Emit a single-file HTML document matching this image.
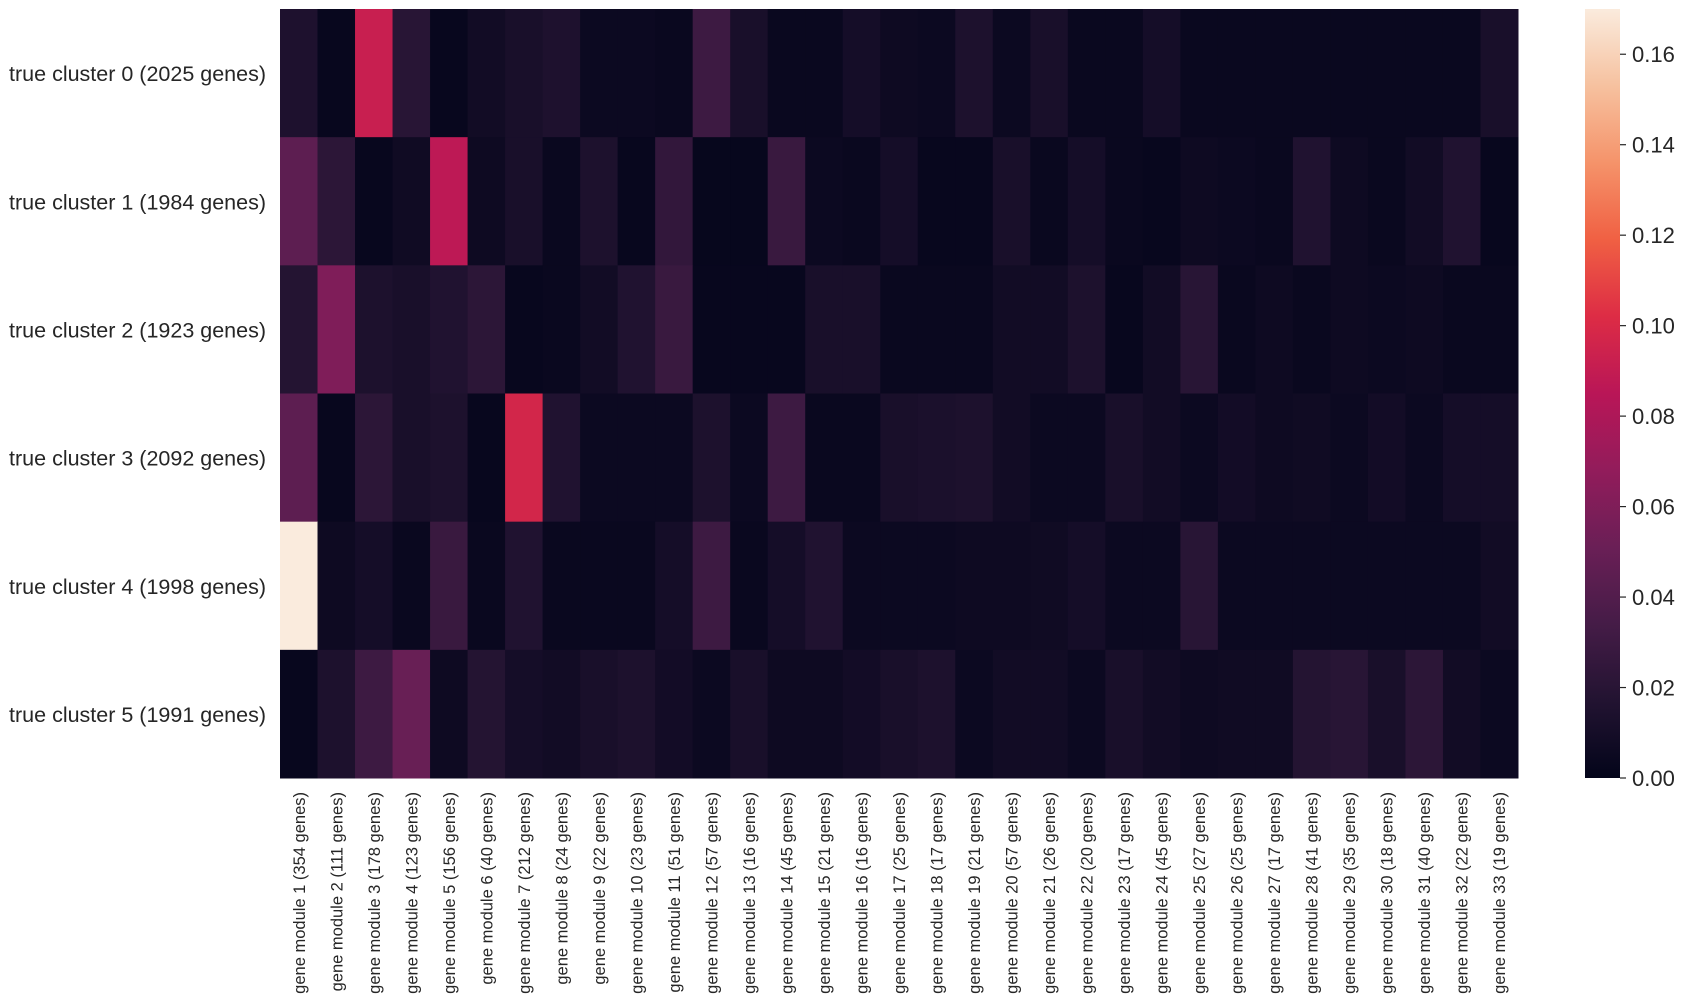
<!DOCTYPE html>
<html><head><meta charset="utf-8"><style>
html,body{margin:0;padding:0;background:#fff;width:1700px;height:1006px;overflow:hidden}
text{font-family:"Liberation Sans",Arial,sans-serif;fill:#262626}
</style></head><body>
<svg id="chart" width="1700" height="1006" xmlns="http://www.w3.org/2000/svg">
<defs><linearGradient id="cbg" x1="0" y1="1" x2="0" y2="0"></linearGradient></defs>
<g id="cells"></g>
<g id="ylabels"></g>
<g id="xlabels"></g>
<g id="cbar"></g>
</svg>
<script>
const rowLabels=["true cluster 0 (2025 genes)","true cluster 1 (1984 genes)","true cluster 2 (1923 genes)","true cluster 3 (2092 genes)","true cluster 4 (1998 genes)","true cluster 5 (1991 genes)"];
const moduleSizes=[354,111,178,123,156,40,212,24,22,23,51,57,16,45,21,16,25,17,21,57,26,20,17,45,27,25,17,41,35,18,40,22,19];
const row0=[0.015,0.003,0.092,0.02,0.003,0.008,0.012,0.015,0.005,0.005,0.004,0.03,0.012,0.004,0.004,0.01,0.006,0.005,0.014,0.005,0.012,0.004,0.004,0.01,0.004,0.004,0.004,0.004,0.004,0.004,0.004,0.004,0.012];
const row1=[0.045,0.022,0.003,0.007,0.087,0.006,0.012,0.004,0.014,0.003,0.025,0.002,0.002,0.028,0.005,0.004,0.01,0.003,0.003,0.012,0.004,0.01,0.004,0.003,0.006,0.005,0.004,0.016,0.006,0.004,0.008,0.016,0.003];
const row2=[0.018,0.06,0.014,0.012,0.016,0.022,0.003,0.004,0.008,0.016,0.028,0.003,0.003,0.003,0.012,0.012,0.004,0.004,0.004,0.008,0.008,0.014,0.003,0.008,0.02,0.004,0.006,0.004,0.006,0.005,0.006,0.004,0.004];
const row3=[0.045,0.003,0.022,0.012,0.014,0.003,0.097,0.016,0.005,0.005,0.005,0.014,0.005,0.03,0.004,0.004,0.012,0.013,0.014,0.008,0.005,0.005,0.012,0.008,0.005,0.009,0.006,0.007,0.005,0.009,0.005,0.01,0.01];
const row4=[0.17,0.006,0.01,0.004,0.028,0.004,0.016,0.004,0.004,0.004,0.01,0.03,0.004,0.01,0.016,0.005,0.005,0.005,0.006,0.006,0.007,0.01,0.005,0.005,0.02,0.005,0.005,0.005,0.005,0.005,0.005,0.005,0.008];
const row5=[0.003,0.014,0.03,0.05,0.006,0.018,0.01,0.008,0.012,0.014,0.009,0.005,0.012,0.006,0.006,0.009,0.012,0.014,0.005,0.008,0.008,0.005,0.012,0.008,0.006,0.007,0.007,0.018,0.02,0.012,0.022,0.008,0.005];
const cbTicks=[0,0.02,0.04,0.06,0.08,0.10,0.12,0.14,0.16];
const rows=[row0,row1,row2,row3,row4,row5];
const vmax=0.17;
const L=280,R=1518,T=9,B=778;
const nc=moduleSizes.length, nr=rows.length;
const cw=(R-L)/nc, rh=(B-T)/nr;
const xPos=i=>L+i*cw, yPos=j=>T+j*rh;
const stops=["#03051a","#221331","#451c47","#6a1f56","#921c5b","#b91657","#dd2c45","#f06043","#f5936a","#f6c19f","#faebdd"];
function hex(h){return [1,3,5].map(k=>parseInt(h.substr(k,2),16));}
function cmap(v){let t=Math.max(0,Math.min(1,v/vmax))*10;let i=Math.min(9,Math.floor(t));let f=t-i;let a=hex(stops[i]),b=hex(stops[i+1]);return "rgb("+a.map((x,k)=>Math.round(x+(b[k]-x)*f)).join(",")+")";}
const NS="http://www.w3.org/2000/svg";
function mk(tag,attrs,parent){const e=document.createElementNS(NS,tag);for(const k in attrs)e.setAttribute(k,attrs[k]);parent.appendChild(e);return e;}
const cells=document.getElementById('cells');
rows.forEach((r,j)=>r.forEach((v,i)=>{
 const e=mk('rect',{x:xPos(i),y:yPos(j),width:cw+0.5,height:rh+0.5,fill:cmap(v)},cells);
 
 
}));
const yl=document.getElementById('ylabels');
rowLabels.forEach((s,j)=>{
 const e=mk('text',{x:L-14,y:yPos(j)+rh/2+8,'text-anchor':'end','font-size':'21.5'},yl);
 e.textContent=s;
 
 
});
const xl=document.getElementById('xlabels');
moduleSizes.forEach((n,i)=>{
 const cx=xPos(i)+cw/2+6, y=B+14;
 const e=mk('text',{x:cx,y:y,'text-anchor':'end','font-size':'16.5',transform:'rotate(-90 '+cx+' '+y+')'},xl);
 e.textContent='gene module '+(i+1)+' ('+n+' genes)';
 
 
});
const cb=document.getElementById('cbar');
const CL=1585,CW=35;
const grad=document.getElementById('cbg');
stops.forEach((c,k)=>mk('stop',{offset:(k*10)+'%','stop-color':c},grad));
const cr=mk('rect',{x:CL,y:T,width:CW,height:B-T,fill:'url(#cbg)'},cb);


const cy=v=>B-(v/vmax)*(B-T);
cbTicks.forEach(v=>{
 const ln=mk('line',{x1:CL+CW,x2:CL+CW+6,y1:cy(v),y2:cy(v),stroke:'#262626','stroke-width':1.2},cb);
 
 
 const t=mk('text',{x:CL+CW+12,y:cy(v)+8,'font-size':'22'},cb);
 t.textContent=v.toFixed(2);
 
 
});
</script>
</body></html>
